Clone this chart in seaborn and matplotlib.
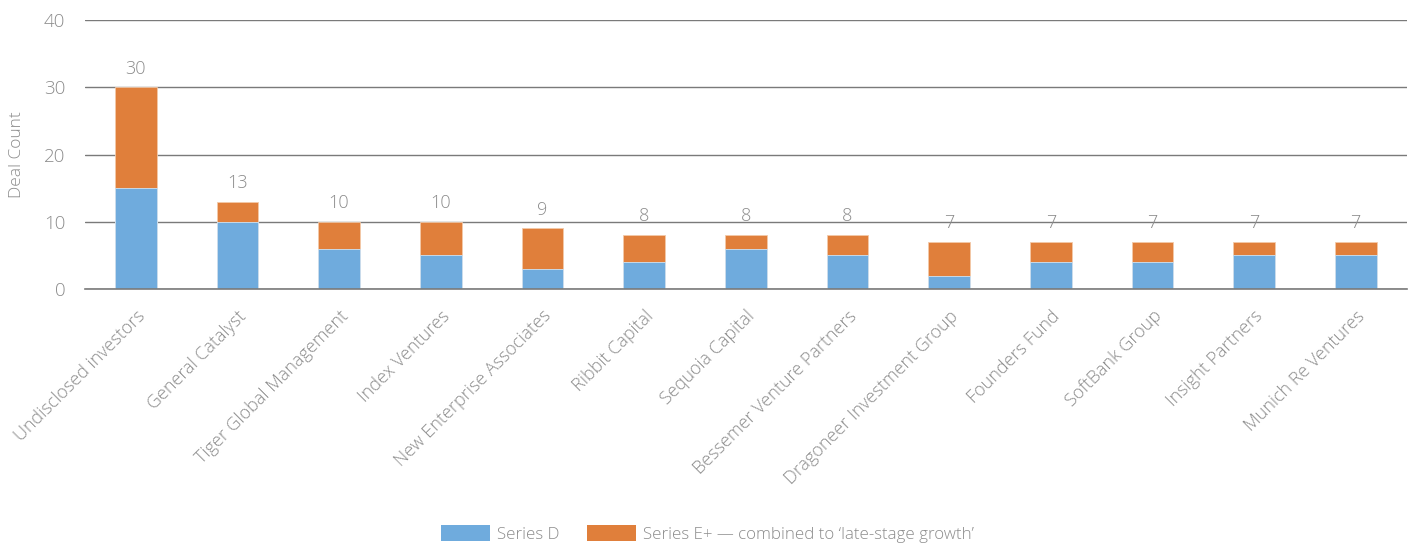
import matplotlib
matplotlib.use("Agg")
import matplotlib.pyplot as plt
import seaborn as sns
import pandas as pd
import numpy as np
from matplotlib.patches import Patch

investors = ["Undisclosed investors", "General Catalyst", "Tiger Global Management",
             "Index Ventures", "New Enterprise Associates", "Ribbit Capital",
             "Sequoia Capital", "Bessemer Venture Partners", "Dragoneer Investment Group",
             "Founders Fund", "SoftBank Group", "Insight Partners", "Munich Re Ventures"]
series_d = [15, 10, 6, 5, 3, 4, 6, 5, 2, 4, 4, 5, 5]
totals = [30, 13, 10, 10, 9, 8, 8, 8, 7, 7, 7, 7, 7]
series_e = [t - d for t, d in zip(totals, series_d)]

blue = "#6FABDD"
orange = "#E07F3B"
txt = "#8c8c8c"
W = 300

sns.set_theme(style="white")
plt.rcParams['font.family'] = ['Open Sans', 'DejaVu Sans']

df = pd.DataFrame({"investor": investors, "d": series_d, "total": totals})

fig = plt.figure(figsize=(14.15, 5.47), dpi=100)
ax = fig.add_axes([0.060, 0.4717, 0.934, 0.4917])

sns.barplot(data=df, x="investor", y="total", color=orange, width=0.41,
            saturation=1, edgecolor="#f3c9a8", linewidth=0.6, ax=ax, zorder=3)
sns.barplot(data=df, x="investor", y="d", color=blue, width=0.41,
            saturation=1, edgecolor="#cfe3f4", linewidth=0.6, ax=ax, zorder=4)

for i, t in enumerate(totals):
    ax.annotate(str(t), (i, t), xytext=(0, 7), textcoords="offset points",
                ha="center", va="bottom", fontsize=13, color=txt, fontweight=W)

ax.set_ylim(0, 40)
ax.set_yticks([0, 10, 20, 30, 40])
ax.set_xlim(-0.5, len(investors) - 0.5)
ax.yaxis.grid(True, color="#7a7a7a", linewidth=1.0, zorder=0)
ax.set_axisbelow(True)
for s in ["top", "right", "left"]:
    ax.spines[s].set_visible(False)
ax.spines["bottom"].set_color("#7a7a7a")
ax.spines["bottom"].set_linewidth(1.2)
ax.spines["bottom"].set_zorder(5)

ax.tick_params(axis="y", length=0, pad=14, labelsize=13.5, labelcolor=txt)
ax.tick_params(axis="x", length=0, pad=13, labelsize=13, labelcolor=txt)
ax.set_xlabel("")
ax.set_ylabel("Deal Count", fontsize=12.5, color=txt, labelpad=14, fontweight=W)
ax.set_xticks(range(len(investors)))
ax.set_xticklabels(investors, rotation=45, ha="right", rotation_mode="anchor",
                   fontweight=W)
for lbl in ax.get_yticklabels():
    lbl.set_fontweight(W)

handles = [Patch(facecolor=blue, edgecolor="none", label="Series D"),
           Patch(facecolor=orange, edgecolor="none",
                 label="Series E+ \u2014 combined to \u2018late-stage growth\u2019")]
leg = fig.legend(handles=handles, loc="center", bbox_to_anchor=(0.5, 0.024),
                 ncol=2, frameon=False, fontsize=12.2, handlelength=2.9,
                 handleheight=1.1, handletextpad=0.4, columnspacing=1.6)
for t in leg.get_texts():
    t.set_color(txt)
    t.set_fontweight(W)

fig.savefig("out.png", dpi=100)
